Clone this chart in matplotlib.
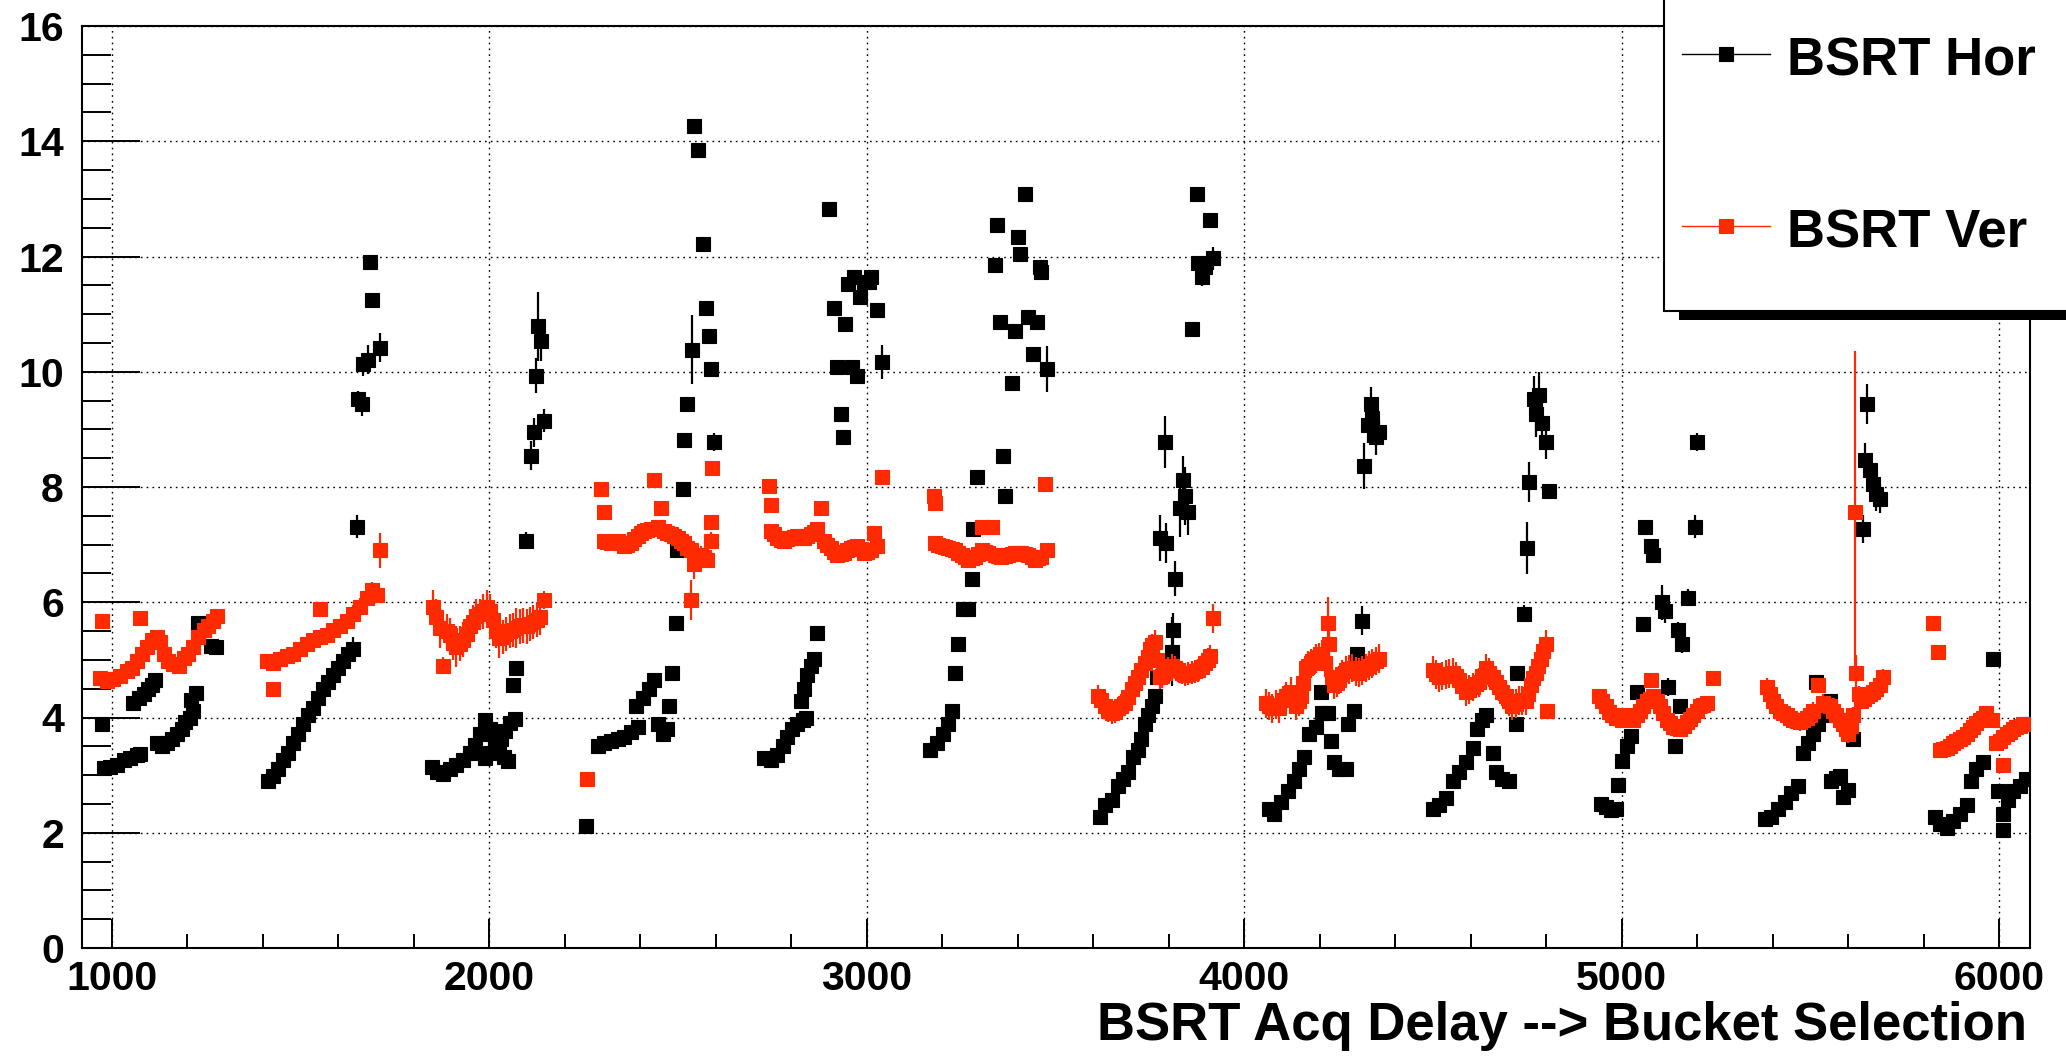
import matplotlib
matplotlib.use("Agg")
import matplotlib.pyplot as plt
from matplotlib.ticker import MultipleLocator
from matplotlib.patches import Rectangle
from matplotlib.lines import Line2D

plt.rcParams['font.family'] = ['Liberation Sans', 'DejaVu Sans']
plt.rcParams['font.weight'] = 'bold'

# ---------------- BSRT horizontal profile width vs acquisition delay ----------------
hor_delay = [
    975, 978, 996, 1013, 1031, 1049, 1066, 1075, 1057, 1071, 1084, 1097, 1106, 1115,
    1119, 1132, 1146, 1159, 1172, 1185, 1194, 1207, 1216, 1210, 1222, 1229, 1243, 1252, 1262, 1276,
    1415, 1428, 1441, 1454, 1468, 1481, 1494, 1507, 1521, 1534, 1547, 1560, 1574, 1587, 1600, 1613, 1627, 1640,
    1649, 1653, 1662, 1666, 1680, 1688, 1684, 1710,
    1847, 1861, 1878, 1896, 1913, 1931, 1949, 1962, 1975, 1988, 2001, 2014, 2027, 2040, 2050,
    1990, 2003, 2016, 2030, 2043, 2056, 2068, 2062, 2072, 2097, 2110, 2119, 2146, 2124, 2128, 2137,
    2256, 2287, 2304, 2322, 2340, 2357, 2375, 2393, 2388, 2406, 2424, 2437, 2446, 2459, 2472, 2477,
    2485, 2494, 2497, 2512, 2516, 2525, 2538, 2543, 2552, 2565, 2574, 2583, 2587, 2596,
    2728, 2746, 2763, 2777, 2790, 2803, 2816, 2830, 2838, 2825, 2834, 2843, 2852, 2860, 2869,
    2900, 2913, 2922, 2931, 2936, 2942, 2950, 2966, 2962, 2975, 2982, 2993, 3005, 3011, 3026, 3040,
    3168, 3185, 3203, 3216, 3225, 3234, 3243, 3256, 3269, 3278, 3281, 3291,
    3340, 3344, 3353, 3362, 3366, 3384, 3393, 3402, 3406, 3419, 3428, 3441, 3450, 3459, 3463, 3477,
    3618, 3631, 3649, 3666, 3680, 3693, 3706, 3719, 3728, 3737, 3746, 3755, 3763, 3768,
    3777, 3790, 3794, 3808, 3812, 3816, 3830, 3839, 3843, 3852, 3861, 3874, 3878, 3887, 3896, 3909, 3918,
    4066, 4079, 4097, 4115, 4132, 4146, 4159, 4172, 4190, 4207,
    4203, 4221, 4229, 4238, 4252, 4269, 4274, 4291, 4300, 4313, 4318, 4327, 4335, 4340, 4349, 4357,
    4499, 4516, 4534, 4552, 4569, 4587, 4605, 4618, 4631, 4640, 4658, 4666, 4684, 4702, 4719, 4724, 4741,
    4750, 4755, 4768, 4772, 4781, 4790, 4799, 4808,
    4945, 4958, 4971, 4984, 4990, 5000, 5013, 5026, 5040, 5057,
    5062, 5079, 5084, 5106, 5115, 5124, 5141, 5150, 5155, 5159, 5177, 5194, 5199,
    5380, 5397, 5415, 5432, 5450, 5468, 5481, 5494, 5507, 5521, 5534, 5516, 5552, 5556, 5569, 5578, 5587, 5600, 5613,
    5640, 5645, 5649, 5658, 5666, 5675, 5684,
    5830, 5843, 5861, 5878, 5896, 5914, 5927, 5940, 5958, 5984, 5997, 6011, 6011, 6024, 6037, 6055, 6072,
]
hor_width = [
    3.88, 3.13, 3.14, 3.18, 3.26, 3.30, 3.35, 3.37, 4.25, 4.33, 4.41, 4.49, 4.57, 4.65,
    3.55, 3.51, 3.55, 3.63, 3.71, 3.80, 3.92, 4.00, 4.12, 4.30, 4.42, 5.64, 5.51, 5.60, 5.24, 5.22,
    2.90, 2.98, 3.10, 3.26, 3.39, 3.55, 3.71, 3.88, 4.04, 4.16, 4.33, 4.49, 4.61, 4.74, 4.86, 4.98, 5.10, 5.19,
    7.31, 9.52, 9.44, 10.13, 10.21, 11.24, 11.91, 10.42,
    3.14, 3.06, 3.02, 3.10, 3.18, 3.26, 3.39, 3.52, 3.72, 3.95, 3.80, 3.62, 3.45, 3.32, 3.24,
    3.30, 3.38, 3.50, 3.62, 3.76, 3.90, 3.98, 4.57, 4.86, 7.07, 8.54, 8.95, 9.15, 9.93, 10.79, 10.54,
    2.12, 3.51, 3.55, 3.59, 3.63, 3.67, 3.75, 3.84, 4.20, 4.33, 4.49, 4.65, 3.88, 3.71, 3.80, 4.20,
    4.78, 5.64, 6.90, 7.97, 8.82, 9.44, 10.38, 14.26, 13.85, 12.22, 11.11, 10.62, 10.05, 8.78,
    3.30, 3.26, 3.35, 3.51, 3.67, 3.80, 3.88, 3.96, 4.00, 4.29, 4.49, 4.74, 4.90, 5.02, 5.47,
    12.83, 11.11, 10.09, 9.27, 8.87, 10.83, 11.52, 11.64, 10.09, 9.93, 11.30, 11.56, 11.55, 11.64, 11.07, 10.17,
    3.43, 3.55, 3.71, 3.88, 4.12, 4.78, 5.27, 5.88, 5.88, 6.41, 7.27, 8.17,
    11.85, 12.54, 10.87, 8.54, 7.84, 9.81, 10.70, 12.34, 12.05, 13.08, 10.95, 10.30, 10.87, 11.81, 11.73, 10.05,
    2.28, 2.49, 2.57, 2.81, 2.94, 3.06, 3.31, 3.43, 3.63, 3.88, 4.04, 4.20, 4.37, 4.70,
    7.11, 8.78, 7.03, 5.14, 5.51, 6.41, 7.64, 8.13, 7.84, 7.56, 10.75, 13.08, 11.89, 11.64, 11.81, 12.63, 11.97,
    2.41, 2.32, 2.53, 2.73, 2.90, 3.10, 3.31, 3.71, 3.84, 4.08,
    4.45, 4.08, 3.59, 3.22, 3.10, 3.10, 3.88, 4.12, 5.10, 5.68, 8.37, 9.07, 9.44, 9.19, 8.86, 8.95,
    2.41, 2.49, 2.61, 2.90, 3.06, 3.22, 3.47, 3.80, 3.96, 4.04, 3.39, 3.06, 2.94, 2.90, 3.88, 4.78, 5.80,
    6.94, 8.09, 9.52, 9.27, 9.60, 9.11, 8.78, 7.93,
    2.50, 2.44, 2.40, 2.42, 2.82, 3.25, 3.50, 3.68, 4.45, 5.62,
    7.31, 6.98, 6.82, 6.00, 5.84, 4.53, 3.51, 5.51, 4.20, 5.27, 6.08, 7.31, 8.78,
    2.24, 2.28, 2.41, 2.53, 2.69, 2.81, 3.39, 3.55, 3.71, 3.88, 4.04, 4.61, 4.29, 2.90, 2.95, 2.98, 2.62, 2.75, 3.63,
    7.27, 8.46, 9.44, 8.29, 8.05, 7.88, 7.80,
    2.28, 2.16, 2.08, 2.20, 2.32, 2.49, 2.90, 3.10, 3.22, 5.02, 2.73, 2.32, 2.04, 2.57, 2.73, 2.81, 2.94,
]
hor_err = [
    0.05, 0.04, 0.04, 0.04, 0.04, 0.04, 0.04, 0.04, 0.05, 0.05, 0.05, 0.05, 0.05, 0.05,
    0.04, 0.04, 0.04, 0.04, 0.04, 0.04, 0.05, 0.05, 0.05, 0.05, 0.05, 0.06, 0.06, 0.06, 0.06, 0.06,
    0.04, 0.04, 0.04, 0.05, 0.05, 0.05, 0.05, 0.06, 0.06, 0.08, 0.10, 0.12, 0.15, 0.20, 0.22, 0.25, 0.20, 0.20,
    0.20, 0.15, 0.20, 0.20, 0.25, 0.10, 0.06, 0.25,
    0.04, 0.04, 0.04, 0.04, 0.04, 0.04, 0.04, 0.04, 0.04, 0.04, 0.04, 0.04, 0.04, 0.04, 0.04,
    0.04, 0.04, 0.04, 0.04, 0.04, 0.04, 0.04, 0.08, 0.10, 0.15, 0.25, 0.25, 0.20, 0.30, 0.60, 0.35,
    0.03, 0.03, 0.03, 0.03, 0.03, 0.03, 0.03, 0.03, 0.04, 0.04, 0.04, 0.04, 0.04, 0.04, 0.04, 0.04,
    0.06, 0.08, 0.10, 0.10, 0.12, 0.12, 0.60, 0.08, 0.08, 0.10, 0.10, 0.10, 0.12, 0.15,
    0.03, 0.03, 0.03, 0.03, 0.03, 0.03, 0.03, 0.03, 0.03, 0.04, 0.04, 0.04, 0.04, 0.04, 0.04,
    0.08, 0.08, 0.08, 0.08, 0.08, 0.08, 0.08, 0.08, 0.08, 0.08, 0.10, 0.10, 0.10, 0.10, 0.12, 0.30,
    0.03, 0.03, 0.03, 0.03, 0.04, 0.04, 0.04, 0.05, 0.05, 0.05, 0.06, 0.06,
    0.05, 0.05, 0.06, 0.06, 0.06, 0.08, 0.06, 0.05, 0.06, 0.05, 0.06, 0.08, 0.06, 0.06, 0.10, 0.40,
    0.03, 0.03, 0.03, 0.03, 0.03, 0.03, 0.03, 0.03, 0.03, 0.03, 0.05, 0.06, 0.08, 0.10,
    0.40, 0.45, 0.35, 0.60, 0.30, 0.30, 0.50, 0.40, 0.50, 0.40, 0.05, 0.08, 0.10, 0.15, 0.10, 0.05, 0.20,
    0.04, 0.04, 0.04, 0.04, 0.04, 0.04, 0.04, 0.04, 0.04, 0.04,
    0.04, 0.04, 0.04, 0.04, 0.04, 0.04, 0.04, 0.04, 0.10, 0.25, 0.40, 0.30, 0.30, 0.25, 0.30, 0.20,
    0.04, 0.04, 0.04, 0.04, 0.04, 0.04, 0.04, 0.04, 0.04, 0.04, 0.04, 0.04, 0.04, 0.04, 0.08, 0.10, 0.15,
    0.45, 0.35, 0.40, 0.40, 0.40, 0.35, 0.30, 0.06,
    0.04, 0.04, 0.04, 0.04, 0.04, 0.04, 0.04, 0.04, 0.06, 0.08,
    0.10, 0.10, 0.10, 0.30, 0.20, 0.15, 0.08, 0.15, 0.08, 0.15, 0.15, 0.20, 0.15,
    0.04, 0.04, 0.04, 0.04, 0.04, 0.04, 0.04, 0.04, 0.04, 0.04, 0.04, 0.08, 0.05, 0.04, 0.04, 0.04, 0.04, 0.04, 0.05,
    0.25, 0.30, 0.35, 0.30, 0.30, 0.30, 0.25,
    0.04, 0.04, 0.04, 0.04, 0.04, 0.04, 0.04, 0.04, 0.04, 0.04, 0.04, 0.04, 0.04, 0.04, 0.04, 0.04, 0.04,
]

# ---------------- BSRT vertical profile width vs acquisition delay ----------------
ver_delay = [
    974, 969, 987, 1004, 1022, 1040, 1053, 1075, 1066, 1079, 1093, 1106, 1119, 1128,
    1137, 1150, 1163, 1177, 1190, 1203, 1216, 1229, 1243, 1256, 1269, 1278,
    1428, 1552, 1710, 1410, 1428, 1446, 1463, 1481, 1499, 1516, 1534, 1552, 1569, 1587, 1605, 1622, 1640, 1658, 1675, 1688, 1702,
    1852, 1860, 1869, 1878, 1887, 1896, 1905, 1913, 1922, 1931, 1940, 1949, 1958, 1966, 1975, 1984, 1993,
    2002, 2010, 2019, 2027, 2036, 2045, 2054, 2063, 2072, 2081, 2090, 2099, 2108, 2117, 2126, 2135, 2146,
    2260, 2296, 2304, 2304, 2322, 2340, 2357, 2375, 2393, 2410, 2428, 2437, 2446, 2455, 2463, 2481, 2499,
    2516, 2534, 2534, 2543, 2560, 2578, 2587, 2587, 2591,
    2313, 2331, 2348, 2366, 2384, 2402, 2419, 2472, 2490, 2508, 2525, 2552, 2569,
    2741, 2746, 2746, 2763, 2781, 2799, 2816, 2834, 2852, 2869, 2878, 2887, 2905, 2922, 2940, 2958, 2975,
    2993, 3011, 3020, 3028, 3040,
    2755, 2772, 2790, 2808, 2825, 2843, 2860, 2896, 2914, 2931, 2949, 2966, 2984, 3002,
    3177, 3181, 3181, 3199, 3216, 3234, 3252, 3269, 3287, 3305, 3305, 3322, 3331, 3340, 3357, 3375, 3393,
    3410, 3428, 3446, 3463, 3472, 3477,
    3190, 3207, 3225, 3243, 3260, 3278, 3296, 3314, 3349, 3366, 3384, 3401, 3419, 3437, 3455,
    3613, 3631, 3649, 3666, 3684, 3702, 3719, 3737, 3750, 3763, 3777, 3790, 3808, 3825, 3843, 3861, 3878,
    3896, 3909, 3918,
    3622, 3640, 3657, 3675, 3693, 3710, 3728, 3745, 3757, 3770, 3783, 3799, 3816, 3834, 3852, 3869, 3887, 3903,
    4057, 4075, 4093, 4110, 4124, 4137, 4150, 4163, 4177, 4190, 4207, 4221, 4225, 4238, 4252, 4269, 4287,
    4304, 4322, 4340, 4357,
    4066, 4084, 4102, 4144, 4156, 4170, 4184, 4198, 4214, 4232, 4245, 4260, 4278, 4296, 4313, 4331, 4349,
    4499, 4516, 4534, 4552, 4569, 4587, 4605, 4622, 4640, 4658, 4675, 4693, 4710, 4728, 4746, 4759, 4772,
    4786, 4799, 4803,
    4508, 4525, 4543, 4560, 4578, 4596, 4613, 4631, 4649, 4666, 4684, 4702, 4719, 4737, 4752, 4765, 4779, 4792,
    4940, 4958, 4975, 4993, 5011, 5031, 5049, 5066, 5079, 5084, 5102, 5119, 5137, 5155, 5172, 5190, 5208,
    5225, 5243,
    4949, 4966, 4984, 5002, 5020, 5040, 5058, 5075, 5093, 5110, 5128, 5146, 5164, 5181, 5199, 5216,
    5384, 5402, 5419, 5437, 5455, 5472, 5490, 5508, 5521, 5534, 5552, 5569, 5587, 5600, 5613, 5618, 5622,
    5635, 5649, 5666, 5684, 5693,
    5393, 5410, 5428, 5446, 5464, 5481, 5499, 5543, 5560, 5578, 5594, 5607, 5628, 5642, 5657, 5675,
    5825, 5839, 5843, 5861, 5878, 5896, 5914, 5931, 5949, 5966, 5980, 5993, 6011, 6011, 6028, 6046, 6063, 6074,
    5852, 5870, 5887, 5905, 5922, 5940, 5958, 6002, 6020, 6037, 6055,
]
ver_width = [
    5.68, 4.68, 4.64, 4.66, 4.72, 4.80, 4.86, 5.72, 4.98, 5.10, 5.23, 5.35, 5.39, 5.31,
    5.10, 4.98, 4.92, 4.90, 5.04, 5.10, 5.23, 5.39, 5.51, 5.59, 5.68, 5.76,
    4.49, 5.88, 6.90, 4.98, 4.94, 5.02, 5.06, 5.10, 5.19, 5.27, 5.35, 5.39, 5.43, 5.51, 5.59, 5.68, 5.80, 5.92, 6.08, 6.21, 6.13,
    5.92, 5.75, 5.55, 4.90, 5.50, 5.43, 5.30, 5.23, 5.28, 5.35, 5.45, 5.59, 5.65, 5.76, 5.80, 5.84, 5.92,
    5.85, 5.70, 5.50, 5.38, 5.40, 5.45, 5.50, 5.52, 5.55, 5.58, 5.60, 5.58, 5.62, 5.66, 5.70, 5.74, 6.04,
    2.94, 7.97, 7.56, 7.07, 7.03, 7.07, 6.98, 7.03, 7.15, 7.23, 7.27, 8.13, 7.31, 7.64, 7.23, 7.19, 7.11,
    7.03, 6.90, 6.04, 6.66, 6.82, 6.74, 7.39, 7.07, 8.33,
    7.05, 7.04, 7.02, 7.00, 7.10, 7.20, 7.25, 7.20, 7.15, 7.06, 6.95, 6.75, 6.78,
    8.01, 7.68, 7.23, 7.11, 7.07, 7.11, 7.15, 7.11, 7.19, 7.27, 7.64, 7.07, 6.94, 6.82, 6.86, 6.94, 6.98,
    6.86, 6.90, 7.20, 6.98, 8.17,
    7.18, 7.08, 7.10, 7.13, 7.12, 7.15, 7.22, 7.00, 6.88, 6.84, 6.90, 6.96, 6.92, 6.88,
    7.84, 7.72, 7.03, 6.98, 6.94, 6.90, 6.82, 6.74, 6.78, 6.90, 7.31, 6.86, 7.31, 6.82, 6.78, 6.82, 6.86,
    6.86, 6.82, 6.74, 6.78, 8.05, 6.90,
    7.00, 6.96, 6.92, 6.86, 6.78, 6.76, 6.84, 6.88, 6.80, 6.80, 6.84, 6.86, 6.84, 6.78, 6.76,
    4.37, 4.20, 4.08, 4.16, 4.25, 4.49, 4.70, 4.94, 5.19, 5.31, 4.70, 4.78, 4.90, 4.82, 4.74, 4.78, 4.82,
    4.94, 5.06, 5.72,
    4.30, 4.12, 4.10, 4.20, 4.35, 4.60, 4.82, 5.05, 5.25, 5.00, 4.72, 4.85, 4.86, 4.78, 4.76, 4.80, 4.88, 5.00,
    4.25, 4.16, 4.16, 4.37, 4.45, 4.20, 4.37, 4.86, 4.94, 5.02, 5.10, 5.64, 5.27, 4.57, 4.65, 4.82, 4.86,
    4.78, 4.86, 4.94, 5.02,
    4.20, 4.22, 4.30, 4.28, 4.60, 4.90, 4.98, 5.05, 4.95, 4.70, 4.60, 4.75, 4.84, 4.80, 4.82, 4.90, 4.98,
    4.82, 4.70, 4.74, 4.78, 4.65, 4.45, 4.53, 4.61, 4.86, 4.70, 4.53, 4.37, 4.20, 4.29, 4.29, 4.57, 4.78,
    5.02, 5.27, 4.12,
    4.75, 4.72, 4.76, 4.72, 4.55, 4.48, 4.58, 4.72, 4.78, 4.62, 4.45, 4.28, 4.24, 4.30, 4.40, 4.68, 4.90, 5.15,
    4.37, 4.20, 4.04, 4.00, 4.04, 3.96, 4.12, 4.29, 4.65, 4.37, 4.20, 3.96, 3.84, 3.80, 3.92, 4.04, 4.20,
    4.25, 4.69,
    4.28, 4.10, 4.00, 3.95, 3.98, 4.05, 4.20, 4.32, 4.28, 4.08, 3.90, 3.82, 3.86, 3.98, 4.12, 4.22,
    4.53, 4.29, 4.12, 4.04, 3.96, 3.92, 4.00, 4.12, 4.57, 4.25, 4.20, 4.04, 3.88, 3.71, 4.04, 7.56, 4.78,
    4.29, 4.37, 4.45, 4.57, 4.70,
    4.40, 4.20, 4.08, 4.00, 3.94, 3.95, 4.05, 4.22, 4.12, 3.96, 3.80, 3.85, 4.40, 4.32, 4.40, 4.50,
    5.64, 5.14, 3.43, 3.47, 3.55, 3.63, 3.71, 3.84, 3.96, 4.08, 3.96, 3.55, 3.18, 3.67, 3.75, 3.84, 3.88, 3.88,
    3.45, 3.50, 3.60, 3.66, 3.78, 3.90, 4.00, 3.60, 3.72, 3.80, 3.86,
]
ver_err = [
    0.06, 0.06, 0.06, 0.06, 0.06, 0.06, 0.06, 0.06, 0.06, 0.06, 0.06, 0.06, 0.06, 0.06,
    0.06, 0.06, 0.06, 0.06, 0.06, 0.06, 0.06, 0.06, 0.06, 0.06, 0.06, 0.06,
    0.05, 0.10, 0.30, 0.06, 0.06, 0.06, 0.06, 0.08, 0.08, 0.08, 0.10, 0.10, 0.10, 0.12, 0.12, 0.12, 0.15, 0.15, 0.15, 0.15, 0.15,
    0.30, 0.30, 0.35, 0.15, 0.30, 0.30, 0.30, 0.35, 0.30, 0.30, 0.25, 0.30, 0.30, 0.30, 0.25, 0.30, 0.30,
    0.30, 0.30, 0.30, 0.35, 0.30, 0.30, 0.30, 0.30, 0.35, 0.30, 0.30, 0.30, 0.30, 0.30, 0.30, 0.30, 0.15,
    0.04, 0.05, 0.05, 0.05, 0.05, 0.05, 0.05, 0.05, 0.06, 0.06, 0.06, 0.05, 0.06, 0.06, 0.08, 0.10, 0.10,
    0.12, 0.15, 0.35, 0.25, 0.15, 0.15, 0.08, 0.15, 0.06,
    0.05, 0.05, 0.05, 0.05, 0.05, 0.06, 0.06, 0.08, 0.10, 0.10, 0.12, 0.20, 0.15,
    0.05, 0.05, 0.05, 0.05, 0.05, 0.05, 0.05, 0.05, 0.05, 0.05, 0.05, 0.05, 0.05, 0.05, 0.05, 0.05, 0.05,
    0.05, 0.05, 0.05, 0.05, 0.05,
    0.05, 0.05, 0.05, 0.05, 0.05, 0.05, 0.05, 0.05, 0.05, 0.05, 0.05, 0.05, 0.05, 0.05,
    0.06, 0.06, 0.06, 0.06, 0.06, 0.06, 0.06, 0.06, 0.06, 0.06, 0.06, 0.06, 0.06, 0.06, 0.06, 0.06, 0.06,
    0.06, 0.06, 0.06, 0.06, 0.06, 0.06,
    0.06, 0.06, 0.06, 0.06, 0.06, 0.06, 0.06, 0.06, 0.06, 0.06, 0.06, 0.06, 0.06, 0.06, 0.06,
    0.20, 0.20, 0.20, 0.20, 0.20, 0.20, 0.20, 0.20, 0.20, 0.20, 0.20, 0.20, 0.20, 0.20, 0.20, 0.20, 0.20,
    0.20, 0.20, 0.25,
    0.20, 0.20, 0.20, 0.20, 0.20, 0.20, 0.20, 0.20, 0.20, 0.20, 0.20, 0.20, 0.20, 0.20, 0.20, 0.20, 0.20, 0.20,
    0.25, 0.25, 0.25, 0.25, 0.25, 0.25, 0.25, 0.25, 0.25, 0.25, 0.25, 0.45, 0.25, 0.25, 0.25, 0.25, 0.25,
    0.25, 0.25, 0.25, 0.25,
    0.25, 0.25, 0.25, 0.25, 0.25, 0.25, 0.25, 0.25, 0.25, 0.25, 0.25, 0.25, 0.25, 0.25, 0.25, 0.25, 0.25,
    0.25, 0.25, 0.25, 0.25, 0.25, 0.25, 0.25, 0.25, 0.25, 0.25, 0.25, 0.25, 0.25, 0.25, 0.25, 0.25, 0.25,
    0.25, 0.25, 0.10,
    0.25, 0.25, 0.25, 0.25, 0.25, 0.25, 0.25, 0.25, 0.25, 0.25, 0.25, 0.25, 0.25, 0.25, 0.25, 0.25, 0.25, 0.25,
    0.10, 0.10, 0.10, 0.10, 0.10, 0.10, 0.10, 0.10, 0.10, 0.10, 0.10, 0.10, 0.10, 0.10, 0.10, 0.10, 0.10,
    0.10, 0.10,
    0.10, 0.10, 0.10, 0.10, 0.10, 0.10, 0.10, 0.10, 0.10, 0.10, 0.10, 0.10, 0.10, 0.10, 0.10, 0.10,
    0.15, 0.15, 0.15, 0.15, 0.15, 0.15, 0.15, 0.15, 0.10, 0.15, 0.15, 0.15, 0.15, 0.15, 0.15, 2.80, 0.30,
    0.15, 0.15, 0.15, 0.15, 0.15,
    0.15, 0.15, 0.15, 0.15, 0.15, 0.15, 0.15, 0.15, 0.15, 0.15, 0.15, 0.15, 0.15, 0.15, 0.15, 0.15,
    0.05, 0.05, 0.05, 0.05, 0.05, 0.05, 0.05, 0.05, 0.05, 0.05, 0.05, 0.05, 0.05, 0.05, 0.05, 0.05, 0.05, 0.05,
    0.05, 0.05, 0.05, 0.05, 0.05, 0.05, 0.05, 0.05, 0.05, 0.05, 0.05,
]

series_labels = ["BSRT Hor", "BSRT Ver"]
series_colors = ["#000000", "#ff2a00"]
x_title = "BSRT Acq Delay --> Bucket Selection"

# ---------------- canvas (pixel based layout) ----------------
W, H, DPI = 2066, 1058, 100
fig = plt.figure(figsize=(W / DPI, H / DPI), dpi=DPI, facecolor="white")

FL, FR, FT, FB = 82, 2030, 26, 948          # frame edges in pixels
ax = fig.add_axes([FL / W, 1 - FB / H, (FR - FL) / W, (FB - FT) / H])
ax.set_xlim(921, 6082)
ax.set_ylim(0, 16)

ax.xaxis.set_major_locator(MultipleLocator(1000))
ax.xaxis.set_minor_locator(MultipleLocator(200))
ax.yaxis.set_major_locator(MultipleLocator(2))
ax.yaxis.set_minor_locator(MultipleLocator(0.5))

ax.tick_params(axis="both", which="both", direction="in", top=False, right=False,
               width=1.4, color="black", labelsize=29.5)
ax.tick_params(axis="y", which="major", length=42, pad=13)
ax.tick_params(axis="y", which="minor", length=21)
ax.tick_params(axis="x", which="major", length=21, pad=9)
ax.tick_params(axis="x", which="minor", length=10)
for lab in ax.get_xticklabels() + ax.get_yticklabels():
    lab.set_fontweight("bold")

for sp in ax.spines.values():
    sp.set_linewidth(1.5)

ax.grid(which="major", color="black", linestyle=(0, (1.2, 3.0)), linewidth=1.0)
ax.set_axisbelow(True)

MS = 10.5
ax.errorbar(hor_delay, hor_width, yerr=hor_err, fmt="s", ms=MS, mew=0.8,
            color=series_colors[0], ecolor=series_colors[0], elinewidth=1.6,
            capsize=0, zorder=3)
ax.errorbar(ver_delay, ver_width, yerr=ver_err, fmt="s", ms=MS, mew=0.8,
            color=series_colors[1], ecolor=series_colors[1], elinewidth=1.6,
            capsize=0, zorder=4)

# x title, right aligned with the frame
fig.text(2027 / W, 1 - 1040 / H, x_title, ha="right", va="baseline",
         fontsize=38, fontweight="bold")

# ---------------- legend box with drop shadow ----------------
def fx(px):
    return px / W


def fy(py):
    return 1 - py / H


LX0, LY1 = 1664, 311
fig.add_artist(Rectangle((fx(LX0 + 15), fy(LY1 + 9)), fx(W + 40) - fx(LX0 + 15),
                         fy(-40) - fy(LY1 + 9), transform=fig.transFigure,
                         facecolor="black", edgecolor="none", zorder=5))
fig.add_artist(Rectangle((fx(LX0), fy(LY1)), fx(W + 40) - fx(LX0), fy(-40) - fy(LY1),
                         transform=fig.transFigure, facecolor="white",
                         edgecolor="black", linewidth=1.5, zorder=6))

entry_rows = [54, 226]
entry_base = [75, 247]
for label, color, yr, yb in zip(series_labels, series_colors, entry_rows, entry_base):
    fig.add_artist(Line2D([fx(1682), fx(1770)], [fy(yr), fy(yr)], transform=fig.transFigure,
                          color=color, linewidth=1.0, zorder=7))
    fig.add_artist(Line2D([fx(1726)], [fy(yr)], transform=fig.transFigure, marker="s",
                          ms=MS, mew=0.8, color=color, linestyle="none", zorder=8))
    fig.text(fx(1787), fy(yb), label, ha="left", va="baseline", fontsize=38,
             fontweight="bold", zorder=9)

fig.savefig("out.png", dpi=DPI, facecolor="white")
